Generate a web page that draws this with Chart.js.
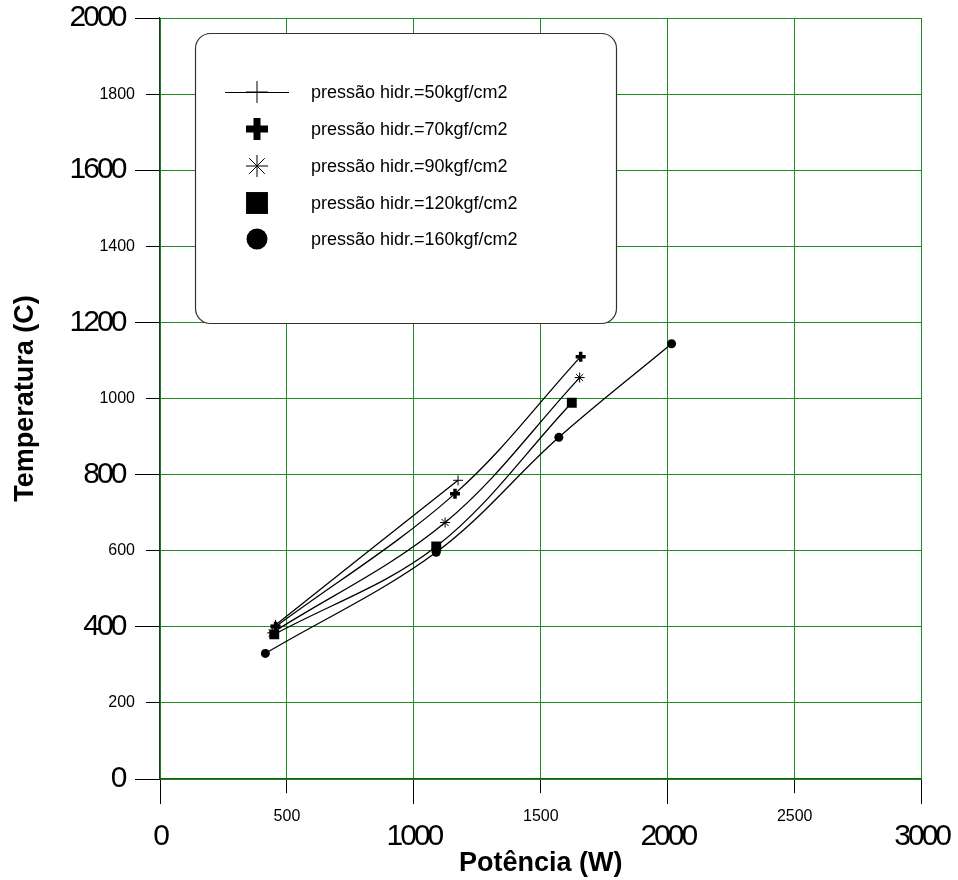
<!DOCTYPE html>
<html>
<head>
<meta charset="utf-8">
<title>Temperatura x Potência</title>
<script src="https://cdn.jsdelivr.net/npm/chart.js"></script>
<style>
    body { margin: 0; background: #fff; }
    #wrap { width: 958px; height: 880px; }
</style>
</head>
<body>
<div id="wrap"><canvas id="chart" width="958" height="880"></canvas></div>
<script>
// Temperatura (C) x Potência (W) for several hydraulic pressures
// values

const labels50 = 'pressão hidr.=50kgf/cm2';
const power50 = [455, 1174];
const temp50 = [405, 785];

const labels70 = 'pressão hidr.=70kgf/cm2';
const power70 = [455, 1162, 1657];
const temp70 = [400, 750, 1110];

const labels90 = 'pressão hidr.=90kgf/cm2';
const power90 = [442, 1123, 1653];
const temp90 = [384, 674, 1055];

const labels120 = 'pressão hidr.=120kgf/cm2';
const power120 = [450, 1088, 1622];
const temp120 = [380, 611, 989];

const labels160 = 'pressão hidr.=160kgf/cm2';
const power160 = [415, 1088, 1571, 2015];
const temp160 = [330, 596, 898, 1144];

const xTicks = [0, 500, 1000, 1500, 2000, 2500, 3000];
const yTicks = [0, 200, 400, 600, 800, 1000, 1200, 1400, 1600, 1800, 2000];

const family = '"Liberation Sans", Arial, sans-serif';
const BIG = 30;   // the big tick numbers are squeezed (see fillText below)

function toPoints(xs, ys) {
    return xs.map((x, i) => ({ x: x, y: ys[i] }));
}

function makeSet(label, xs, ys, style, radius, width) {
    return {
        label: label,
        data: toPoints(xs, ys),
        borderColor: '#000',
        backgroundColor: '#000',
        borderWidth: 1.3,
        pointStyle: style,
        pointRadius: radius,
        pointBorderWidth: width,
        pointBackgroundColor: '#000',
        pointBorderColor: '#000',
        tension: 0.35,
        fill: false
    };
}

// legend symbols, bigger than on the plot
const legendSymbols = [
    { style: 'cross', radius: 11, width: 1, line: true },
    { style: 'cross', radius: 11, width: 7 },
    { style: 'star', radius: 11, width: 1 },
    { style: 'rect', radius: 15.5, width: 0 },
    { style: 'circle', radius: 10.5, width: 0 }
];

const boxLegend = {
    id: 'boxLegend',
    afterDraw(chart) {
        const ctx = chart.ctx;
        ctx.save();
        ctx.beginPath();
        ctx.roundRect(195.5, 33.5, 421, 290, 15);
        ctx.fillStyle = '#fff';
        ctx.fill();
        ctx.lineWidth = 1.2;
        ctx.strokeStyle = '#333';
        ctx.stroke();

        const rowsY = [92, 129, 166, 203, 239];
        chart.data.datasets.forEach((ds, i) => {
            const sym = legendSymbols[i];
            const y = rowsY[i];
            ctx.strokeStyle = '#000';
            ctx.fillStyle = '#000';
            if (sym.line) {
                ctx.lineWidth = 1;
                ctx.beginPath();
                ctx.moveTo(225, y + 0.5);
                ctx.lineTo(289, y + 0.5);
                ctx.stroke();
            }
            ctx.lineWidth = sym.width;
            Chart.helpers.drawPoint(ctx, {
                pointStyle: sym.style,
                radius: sym.radius,
                rotation: 0,
                borderWidth: sym.width
            }, 257, y);

            ctx.font = '18px ' + family;
            ctx.textAlign = 'left';
            ctx.textBaseline = 'middle';
            ctx.fillText(ds.label, 311, y + 1);
        });
        ctx.restore();
    }
};

const canvas = document.getElementById('chart');
const ctx2d = canvas.getContext('2d');

// big axis numbers are drawn narrow in the original: tighten their spacing
const baseFillText = ctx2d.fillText;
ctx2d.fillText = function (text, x, y, maxWidth) {
    this.letterSpacing = this.font.indexOf(BIG + 'px') !== -1 ? '-3px' : '0px';
    if (maxWidth === undefined) {
        baseFillText.call(this, text, x, y);
    } else {
        baseFillText.call(this, text, x, y, maxWidth);
    }
};

const bigFont = { family: family, size: BIG };
const smallFont = { family: family, size: 16 };

new Chart(canvas, {
    type: 'line',
    data: {
        datasets: [
            makeSet(labels50, power50, temp50, 'cross', 5, 1),
            makeSet(labels70, power70, temp70, 'cross', 5, 3.5),
            makeSet(labels90, power90, temp90, 'star', 5, 1),
            makeSet(labels120, power120, temp120, 'rect', 7, 0),
            makeSet(labels160, power160, temp160, 'circle', 4.5, 0)
        ]
    },
    options: {
        responsive: false,
        animation: false,
        layout: { padding: { top: 17, right: 34, left: 0, bottom: 0 } },
        plugins: {
            legend: { display: false },
            tooltip: { enabled: false }
        },
        scales: {
            x: {
                type: 'linear',
                min: 0,
                max: 3000,
                afterBuildTicks: (scale) => { scale.ticks = xTicks.map(v => ({ value: v })); },
                afterFit: (scale) => { scale.height = 101; },
                border: { color: '#1a5c1a', width: 1.2 },
                grid: {
                    color: '#1e8c1e',
                    lineWidth: 1,
                    tickColor: '#000',
                    tickLength: 25,
                    tickBorderDash: (ctx) => ctx.tick && ctx.tick.value % 1000 === 0 ? [] : [14, 20]
                },
                ticks: {
                    autoSkip: false,
                    maxRotation: 0,
                    padding: 3,
                    color: '#000',
                    font: (ctx) => ctx.tick && ctx.tick.value % 1000 === 0
                        ? { family: family, size: BIG, lineHeight: 20 / BIG }
                        : smallFont,
                    callback: (v) => v % 1000 === 0 ? ['', String(v)] : String(v)
                },
                title: {
                    display: true,
                    text: 'Potência (W)',
                    color: '#000',
                    font: { family: family, size: 27, weight: 'bold' },
                    padding: 0
                }
            },
            y: {
                type: 'linear',
                min: 0,
                max: 2000,
                afterBuildTicks: (scale) => { scale.ticks = yTicks.map(v => ({ value: v })); },
                afterFit: (scale) => { scale.width = 160; },
                border: { color: '#1a3d1a', width: 1.2 },
                grid: {
                    color: '#1e8c1e',
                    lineWidth: 1,
                    tickColor: '#000',
                    tickLength: 25,
                    tickBorderDash: (ctx) => ctx.tick && ctx.tick.value % 400 === 0 ? [] : [0, 11, 14, 11]
                },
                ticks: {
                    autoSkip: false,
                    padding: 0,
                    color: '#000',
                    font: (ctx) => ctx.tick && ctx.tick.value % 400 === 0 ? bigFont : smallFont,
                    callback: (v) => v % 400 === 0 ? v + '  ' : String(v)
                },
                title: {
                    display: true,
                    text: 'Temperatura (C)',
                    color: '#000',
                    font: { family: family, size: 27, weight: 'bold' },
                    padding: { top: 9, bottom: 0 }
                }
            }
        }
    },
    plugins: [boxLegend]
});
</script>
</body>
</html>
